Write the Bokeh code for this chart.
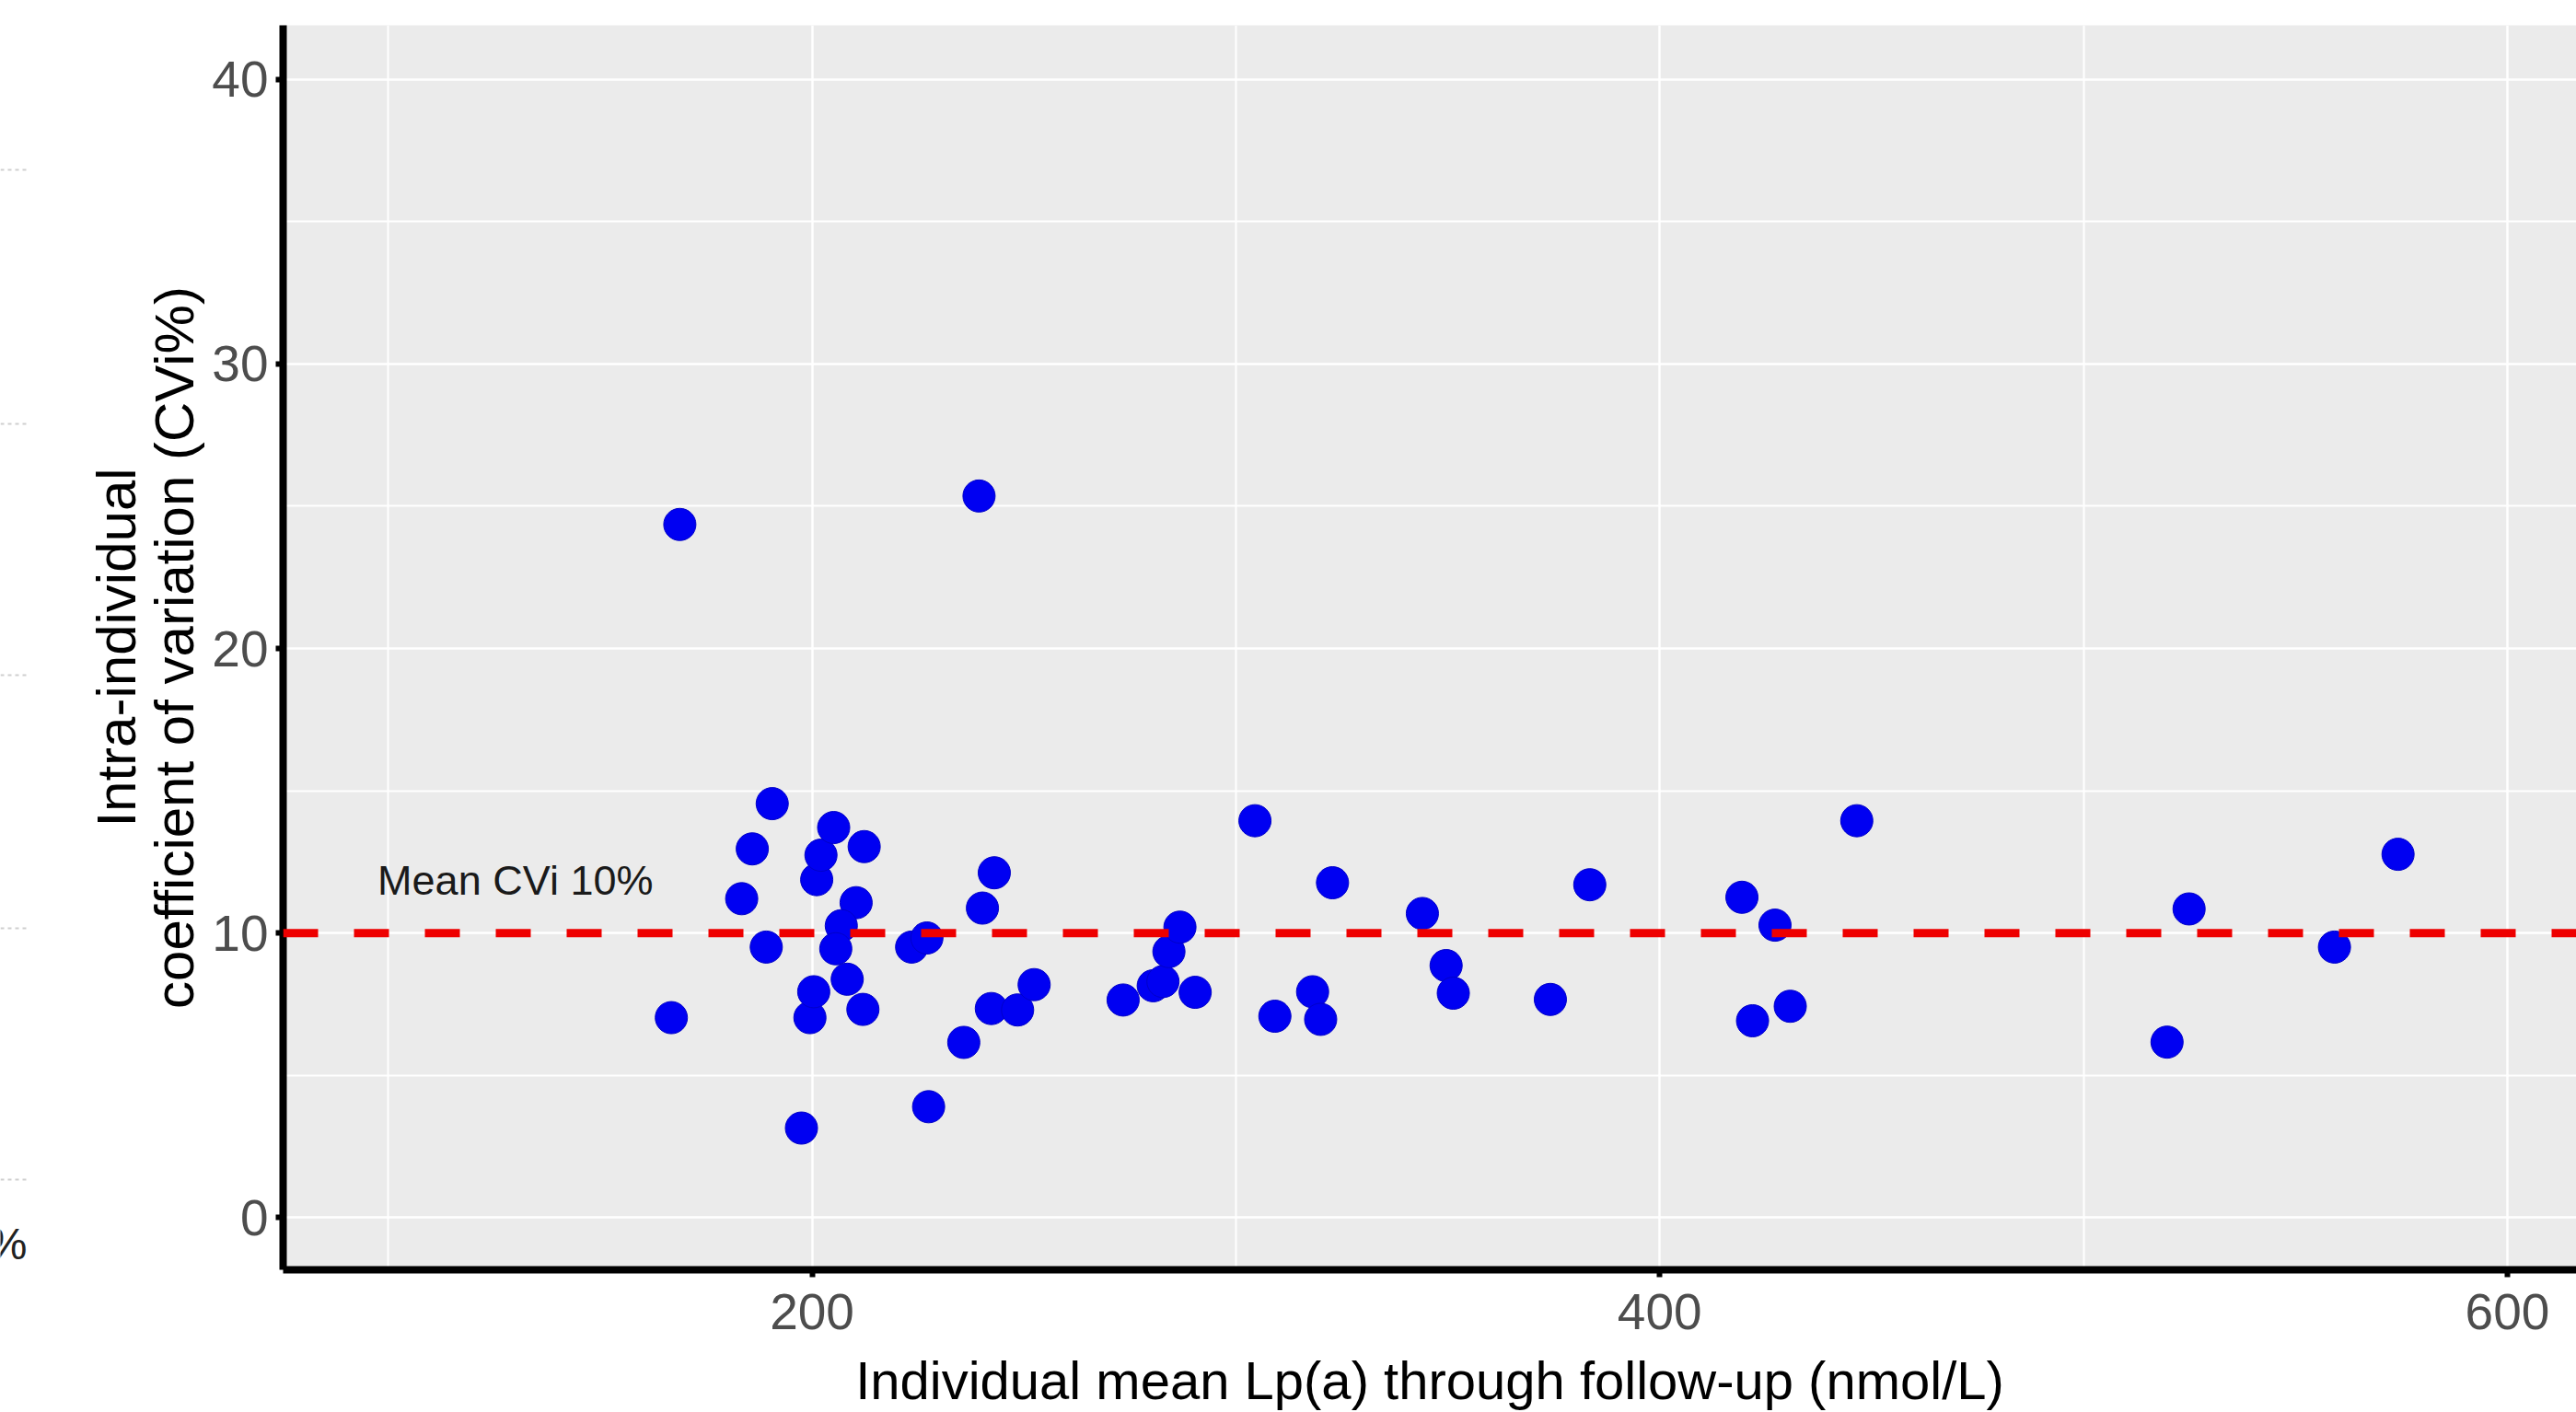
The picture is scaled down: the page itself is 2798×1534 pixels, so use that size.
from bokeh.plotting import figure
from bokeh.models import FixedTicker, Span, Label, Range1d
from bokeh.layouts import row
from bokeh.embed import file_html
from bokeh.resources import INLINE
from bokeh.core.properties import value

# ---------------- data ----------------
lpa_mean = [
    168.8, 239.4,
    166.8, 190.6, 185.9, 183.4, 189.2, 197.5, 199.5, 200.4, 201.1, 202.1,
    205.1, 212.3, 210.4, 206.9, 205.6, 208.3, 212.0, 223.5, 227.1, 227.5,
    243.0, 240.2, 235.8, 242.3, 248.5, 252.4,
    273.4, 280.5, 282.8, 284.2, 286.8, 290.4, 304.5, 309.2, 318.1, 320.0,
    322.8, 344.0, 349.6, 351.3,
    374.2, 383.5, 419.4, 421.9, 427.2, 430.8, 446.5,
    519.7, 524.9, 559.2, 574.2,
]
cvi = [
    24.36, 25.36,
    7.03, 14.55, 12.96, 11.21, 9.51, 3.15, 7.03, 7.94, 11.88, 12.74,
    13.71, 13.04, 11.07, 10.26, 9.45, 8.38, 7.32, 9.51, 9.83, 3.90,
    12.12, 10.88, 6.16, 7.35, 7.30, 8.19,
    7.65, 8.15, 8.30, 9.35, 10.21, 7.92, 13.95, 7.08, 7.94, 6.97,
    11.77, 10.69, 8.86, 7.89,
    7.67, 11.70, 11.26, 6.92, 10.28, 7.43, 13.95,
    6.17, 10.85, 9.51, 12.77,
]
mean_cvi = 10
mean_label = "Mean CVi 10%"

x_major_ticks = [200, 400, 600]
x_minor_ticks = [100, 300, 500]
y_major_ticks = [0, 10, 20, 30, 40]
y_minor_ticks = [5, 15, 25, 35]

x_title = "Individual mean Lp(a) through follow-up (nmol/L)"
y_title = "Intra-individual\ncoefficient of variation (CVi%)"

FONT = "Liberation Sans"
H = 1534
TOP, BOTTOM = 27, 155

# ---------------- cropped neighbour panel remnants (left edge) ----------------
left = figure(width=38, height=H, x_range=Range1d(0, 38), y_range=Range1d(H - BOTTOM, TOP),
              output_backend="svg", toolbar_location=None,
              x_axis_type=None, y_axis_type=None,
              min_border_left=0, min_border_right=0, min_border_top=TOP, min_border_bottom=BOTTOM)
left.outline_line_color = None
left.xgrid.visible = False
left.ygrid.visible = False
left.background_fill_color = "white"
left.border_fill_color = "white"
for yy in [184, 460, 733, 1008, 1281]:
    left.segment(x0=0, y0=yy, x1=32, y1=yy, line_color="#cfcfcf", line_width=2, line_dash="4 4")
left.text(x=[29], y=[1351], text=["%"], text_align="right", text_baseline="middle",
          text_font=value(FONT), text_font_size="48px", text_color="#222222")

# ---------------- main scatter panel ----------------
p = figure(width=2760, height=H,
           x_range=Range1d(75.2, 616.3), y_range=Range1d(-1.83, 41.9),
           output_backend="svg", toolbar_location=None,
           min_border_left=269, min_border_right=0, min_border_top=TOP, min_border_bottom=BOTTOM)

p.background_fill_color = "#EBEBEB"
p.border_fill_color = "white"
p.outline_line_color = None

xt = FixedTicker(ticks=x_major_ticks, minor_ticks=x_minor_ticks)
yt = FixedTicker(ticks=y_major_ticks, minor_ticks=y_minor_ticks)
p.xaxis.ticker = xt
p.yaxis.ticker = yt
p.xgrid.ticker = xt
p.ygrid.ticker = yt

for g in (p.xgrid, p.ygrid):
    g.grid_line_color = "white"
    g.grid_line_width = 2.5
    g.minor_grid_line_color = "white"
    g.minor_grid_line_width = 2

for ax in (p.xaxis, p.yaxis):
    ax.axis_line_color = "black"
    ax.axis_line_width = 8
    ax.major_tick_line_color = "black"
    ax.major_tick_line_width = 6
    ax.major_tick_out = 8
    ax.major_tick_in = 0
    ax.minor_tick_line_color = None
    ax.major_label_text_font = FONT
    ax.major_label_text_font_size = "55px"
    ax.major_label_text_color = "#4D4D4D"
    ax.axis_label_text_font = FONT
    ax.axis_label_text_font_style = "normal"
    ax.axis_label_text_color = "black"

p.xaxis.axis_label_text_font_size = "58px"
p.yaxis.axis_label_text_font_size = "60px"
p.yaxis.axis_label_text_line_height = 0.95
p.xaxis.axis_label = x_title
p.yaxis.axis_label = y_title
p.xaxis.major_label_standoff = 18
p.xaxis.axis_label_standoff = 20
p.yaxis.major_label_standoff = 8
p.yaxis.axis_label_standoff = 4

p.scatter(lpa_mean, cvi, size=35, fill_color="#0000F2", line_color="#0000C8", line_width=1)

p.add_layout(Span(location=mean_cvi, dimension="width", line_color="#EE0000",
                  line_width=9, line_dash="38 39"))
p.add_layout(Label(x=130, y=mean_cvi + 1.85, text=mean_label, text_align="center",
                   text_baseline="middle", text_font=FONT, text_font_size="45px",
                   text_color="#1A1A1A"))

layout = row(left, p)
open("out.html", "w").write(file_html(layout, INLINE))
